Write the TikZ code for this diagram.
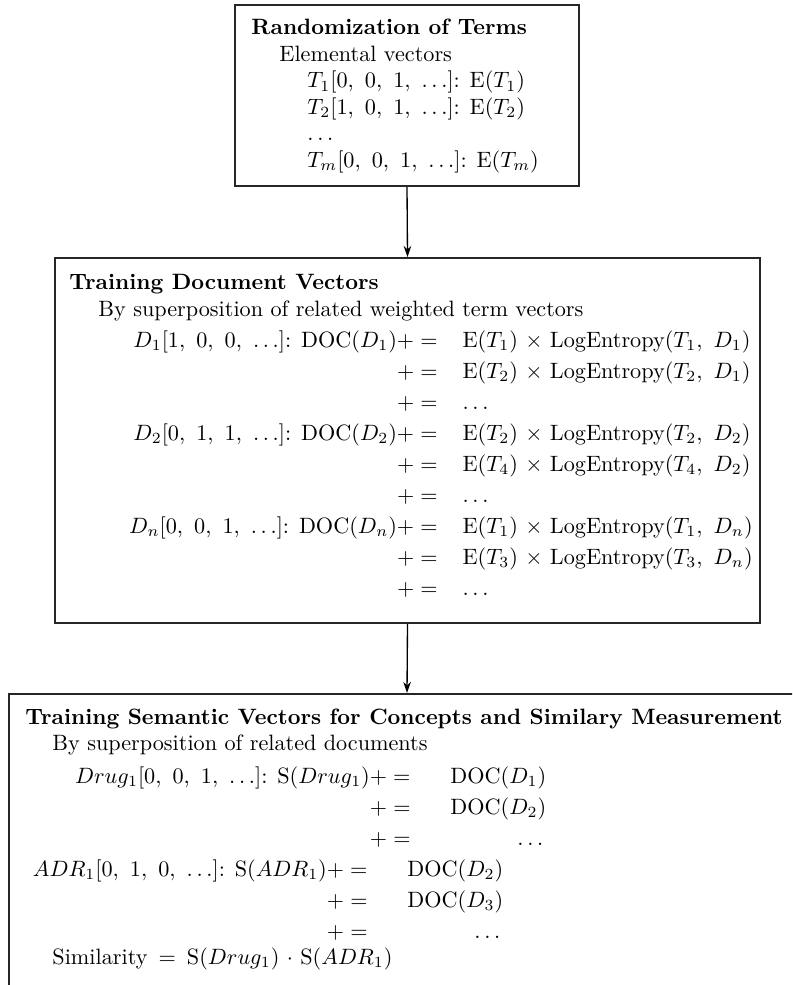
\documentclass[tikz,border=0pt]{standalone}
\usetikzlibrary{arrows.meta,calc}
\begin{document}
\begin{tikzpicture}[x=0.45045pt,y=-0.45045pt,
  txt/.style={anchor=base west, inner sep=0pt},
  rtxt/.style={anchor=base east, inner sep=0pt},
  box/.style={draw=black!85, line width=0.9pt, inner sep=0pt, fill=none},
  arr/.style={-{Stealth[length=5pt,width=3.4pt]}, line width=0.6pt}]
\useasboundingbox (0,0) rectangle (792,985);
\clip (0,0) rectangle (792,985);
% boxes
\node[box, minimum width=154.96pt, minimum height=81.53pt] (b1) at (407,95.5) {};
\node[box, minimum width=317.57pt, minimum height=164.41pt] (b2) at (407.5,440.5) {};
\node[box, minimum width=358.56pt, minimum height=142.34pt] (b3) at (407,852) {};
\draw[arr] (b1.south) -- (b2.north);
\draw[arr] (b2.south) -- (b3.north);
% box 1
\node[txt] (h1) at (251,35) {\textbf{Randomization of Terms}};
\node[txt] (e1) at (279,61.4) {Elemental vectors};
\node[txt] (t1) at (307,87.8) {$T_1[0,\ 0,\ 1,\ \ldots]$: E($T_1$)};
\node[txt] (t2) at (307,114.2) {$T_2[1,\ 0,\ 1,\ \ldots]$: E($T_2$)};
\node[txt] (t3) at (307,140.6) {$\ldots$};
\node[txt] (t4) at (307,167) {$T_m[0,\ 0,\ 1,\ \ldots]$: E($T_m$)};
% box 2
\node[txt] (h2) at (69,289) {\textbf{Training Document Vectors}};
\node[txt] (s2) at (98,316) {By superposition of related weighted term vectors};
\node[rtxt] (r1) at (751,347) {E$(T_1)\ \times\ $LogEntropy$(T_1,\ D_1)$};
\coordinate (c2) at (r1.base west);
\coordinate (c1) at ($(c2)+(-24,0)$);
\node[rtxt] (l1) at (c1) {$D_1[1,\ 0,\ 0,\ \ldots]$: DOC$(D_1)+=$};
\node[rtxt] (l2) at ($(c1)+(0,31)$) {$+=$};
\node[txt]  (r2) at ($(c2)+(0,31)$) {E$(T_2)\ \times\ $LogEntropy$(T_2,\ D_1)$};
\node[rtxt] (l3) at ($(c1)+(0,62)$) {$+=$};
\node[txt]  (r3) at ($(c2)+(0,62)$) {$\ldots$};
\node[rtxt] (l4) at ($(c1)+(0,93)$) {$D_2[0,\ 1,\ 1,\ \ldots]$: DOC$(D_2)+=$};
\node[txt]  (r4) at ($(c2)+(0,93)$) {E$(T_2)\ \times\ $LogEntropy$(T_2,\ D_2)$};
\node[rtxt] (l5) at ($(c1)+(0,124)$) {$+=$};
\node[txt]  (r5) at ($(c2)+(0,124)$) {E$(T_4)\ \times\ $LogEntropy$(T_4,\ D_2)$};
\node[rtxt] (l6) at ($(c1)+(0,155)$) {$+=$};
\node[txt]  (r6) at ($(c2)+(0,155)$) {$\ldots$};
\node[rtxt] (l7) at ($(c1)+(0,186)$) {$D_n[0,\ 0,\ 1,\ \ldots]$: DOC$(D_n)+=$};
\node[txt]  (r7) at ($(c2)+(0,186)$) {E$(T_1)\ \times\ $LogEntropy$(T_1,\ D_n)$};
\node[rtxt] (l8) at ($(c1)+(0,217)$) {$+=$};
\node[txt]  (r8) at ($(c2)+(0,217)$) {E$(T_3)\ \times\ $LogEntropy$(T_3,\ D_n)$};
\node[rtxt] (l9) at ($(c1)+(0,248)$) {$+=$};
\node[txt]  (r9) at ($(c2)+(0,248)$) {$\ldots$};
% box 3
\node[txt] (h3) at (25,724) {\textbf{Training Semantic Vectors for Concepts and Similary Measurement}};
\node[txt] (s3) at (52,750) {By superposition of related documents};
\node[rtxt] (m1) at (411,783) {$Drug_1[0,\ 0,\ 1,\ \ldots]$: S$(Drug_1)+=$};
\node[txt]  (n1) at (450,783) {DOC$(D_1)$};
\node[rtxt] (m2) at (411,814) {$+=$};
\node[txt]  (n2) at (450,814) {DOC$(D_2)$};
\node[rtxt] (m3) at (411,845) {$+=$};
\node[rtxt] (n3) at ($(n2.base east |- 0,845)+(-3,0)$) {$\ldots$};
\node[rtxt] (m4) at (368,876) {$ADR_1[0,\ 1,\ 0,\ \ldots]$: S$(ADR_1)+=$};
\node[txt]  (n4) at (407,876) {DOC$(D_2)$};
\node[rtxt] (m5) at (368,907) {$+=$};
\node[txt]  (n5) at (407,907) {DOC$(D_3)$};
\node[rtxt] (m6) at (368,938) {$+=$};
\node[rtxt] (n6) at ($(n5.base east |- 0,938)+(-3,0)$) {$\ldots$};
\node[txt] (sim) at (52,964) {Similarity~\,$=$\,~S$(Drug_1)$~$\cdot$~S$(ADR_1)$};
\end{tikzpicture}
\end{document}
